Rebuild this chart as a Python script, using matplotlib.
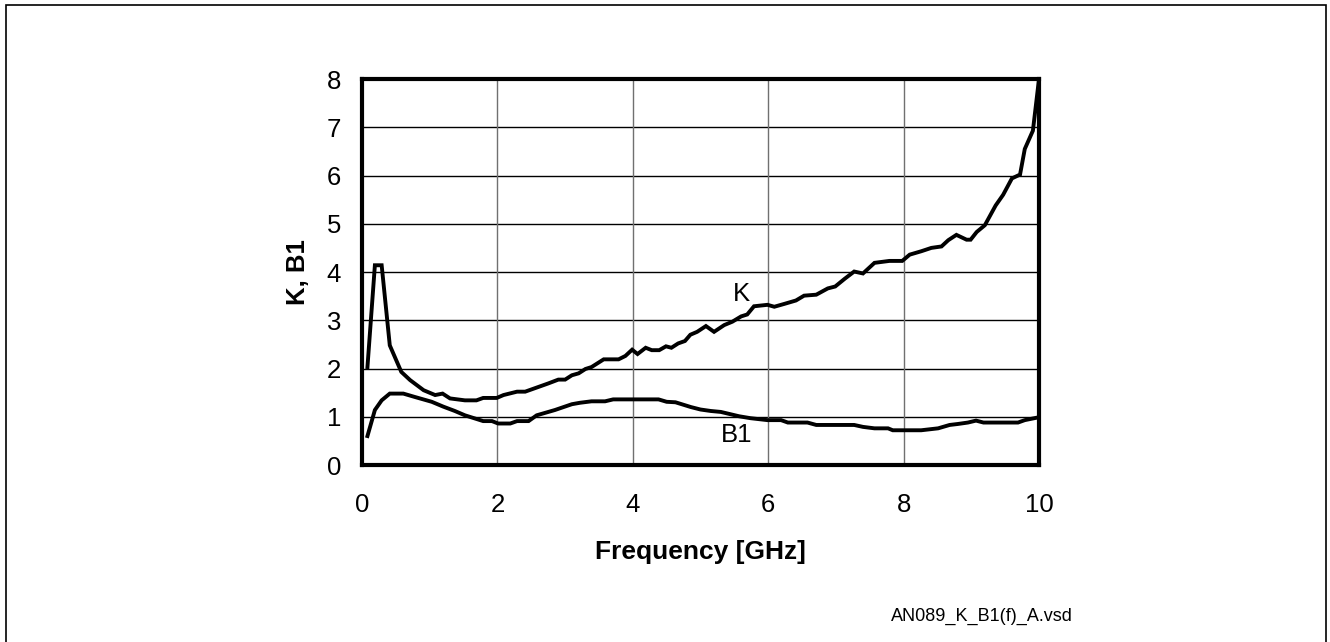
import matplotlib
matplotlib.use('Agg')
import matplotlib.pyplot as plt
from matplotlib.patches import Rectangle

plt.rcParams['font.family'] = ['Liberation Sans', 'DejaVu Sans']

# K curve (frequency in GHz, value)
k_freq = [0.08, 0.19, 0.29, 0.41, 0.58, 0.71, 0.91, 1.08, 1.19, 1.30, 1.52, 1.69,
          1.79, 1.99, 2.09, 2.29, 2.41, 2.75, 2.90, 3.00, 3.10, 3.20, 3.30, 3.39,
          3.57, 3.79, 3.89, 3.99, 4.07, 4.19, 4.28, 4.39, 4.49, 4.57, 4.67, 4.77,
          4.85, 4.95, 5.08, 5.20, 5.35, 5.47, 5.60, 5.69, 5.79, 5.99, 6.09, 6.24,
          6.41, 6.53, 6.71, 6.88, 6.99, 7.13, 7.27, 7.40, 7.57, 7.79, 7.98, 8.09,
          8.26, 8.41, 8.56, 8.66, 8.78, 8.93, 8.99, 9.08, 9.20, 9.36, 9.47, 9.60,
          9.72, 9.79, 9.91, 10.0]
k_vals = [2.03, 4.14, 4.14, 2.48, 1.93, 1.76, 1.55, 1.45, 1.48, 1.38, 1.34, 1.34,
          1.39, 1.39, 1.45, 1.52, 1.52, 1.69, 1.77, 1.77, 1.86, 1.90, 1.99, 2.03,
          2.19, 2.19, 2.26, 2.39, 2.30, 2.43, 2.38, 2.38, 2.46, 2.43, 2.52, 2.57,
          2.70, 2.76, 2.88, 2.76, 2.90, 2.97, 3.08, 3.12, 3.29, 3.32, 3.28, 3.34,
          3.41, 3.51, 3.53, 3.66, 3.70, 3.86, 4.01, 3.97, 4.19, 4.23, 4.23, 4.36,
          4.43, 4.50, 4.53, 4.66, 4.77, 4.67, 4.67, 4.83, 4.97, 5.38, 5.60, 5.94,
          6.02, 6.55, 6.93, 8.0]

# B1 curve
b1_freq = [0.08, 0.19, 0.29, 0.41, 0.61, 0.78, 1.03, 1.20, 1.37, 1.52, 1.79, 1.92,
           2.01, 2.19, 2.29, 2.46, 2.58, 2.85, 3.10, 3.22, 3.39, 3.59, 3.71, 4.38,
           4.50, 4.63, 4.86, 5.00, 5.15, 5.30, 5.57, 5.74, 5.99, 6.19, 6.29, 6.58,
           6.71, 7.27, 7.40, 7.57, 7.77, 7.84, 8.26, 8.51, 8.68, 8.80, 8.95, 9.07,
           9.18, 9.69, 9.79, 10.0]
b1_vals = [0.60, 1.14, 1.34, 1.48, 1.48, 1.41, 1.31, 1.21, 1.12, 1.03, 0.91, 0.91,
           0.86, 0.86, 0.91, 0.91, 1.03, 1.14, 1.26, 1.29, 1.32, 1.32, 1.36, 1.36,
           1.31, 1.30, 1.20, 1.15, 1.12, 1.10, 1.01, 0.97, 0.93, 0.93, 0.88, 0.88,
           0.83, 0.83, 0.79, 0.76, 0.76, 0.72, 0.72, 0.76, 0.83, 0.85, 0.88, 0.92,
           0.88, 0.88, 0.93, 0.99]

x_ticks = [0, 2, 4, 6, 8, 10]
y_ticks = [0, 1, 2, 3, 4, 5, 6, 7, 8]

fig = plt.figure(figsize=(13.3, 6.42), dpi=100)
ax = fig.add_axes([0.2722, 0.2757, 0.5090, 0.6012])

# gridlines: horizontal black, vertical gray
for y in y_ticks[1:-1]:
    ax.axhline(y, color='black', lw=1.0, zorder=1)
for x in x_ticks[1:-1]:
    ax.axvline(x, color='#707070', lw=1.0, zorder=1)

ax.plot(k_freq, k_vals, color='black', lw=2.8, solid_joinstyle='miter', zorder=3)
ax.plot(b1_freq, b1_vals, color='black', lw=2.8, solid_joinstyle='miter', zorder=3)

ax.text(5.6, 3.54, 'K', fontsize=18.5, ha='center', va='center')
ax.text(5.53, 0.62, 'B1', fontsize=18.5, ha='center', va='center')

ax.set_xlim(0, 10)
ax.set_ylim(0, 8)
ax.set_xticks(x_ticks)
ax.set_yticks(y_ticks)
ax.tick_params(length=0, labelsize=18.5)
ax.tick_params(axis='y', pad=15)
ax.tick_params(axis='x', pad=20)
for s in ax.spines.values():
    s.set_linewidth(3)
    s.set_zorder(4)

ax.set_xlabel('Frequency [GHz]', fontsize=19, fontweight='bold')
ax.xaxis.set_label_coords(0.5, -0.195)
ax.set_ylabel('K, B1', fontsize=18.5, fontweight='bold')
ax.yaxis.set_label_coords(-0.077, 0.5)

fig.text(0.738, 0.0405, 'AN089_K_B1(f)_A.vsd', fontsize=13, ha='center', va='center')

# outer frame
fig.patches.append(Rectangle((6 / 1330, -0.01), 1320 / 1330, 1 - 5 / 642 + 0.01,
                             transform=fig.transFigure, fill=False, lw=1.2,
                             edgecolor='black'))

fig.savefig('out.png', dpi=100)
